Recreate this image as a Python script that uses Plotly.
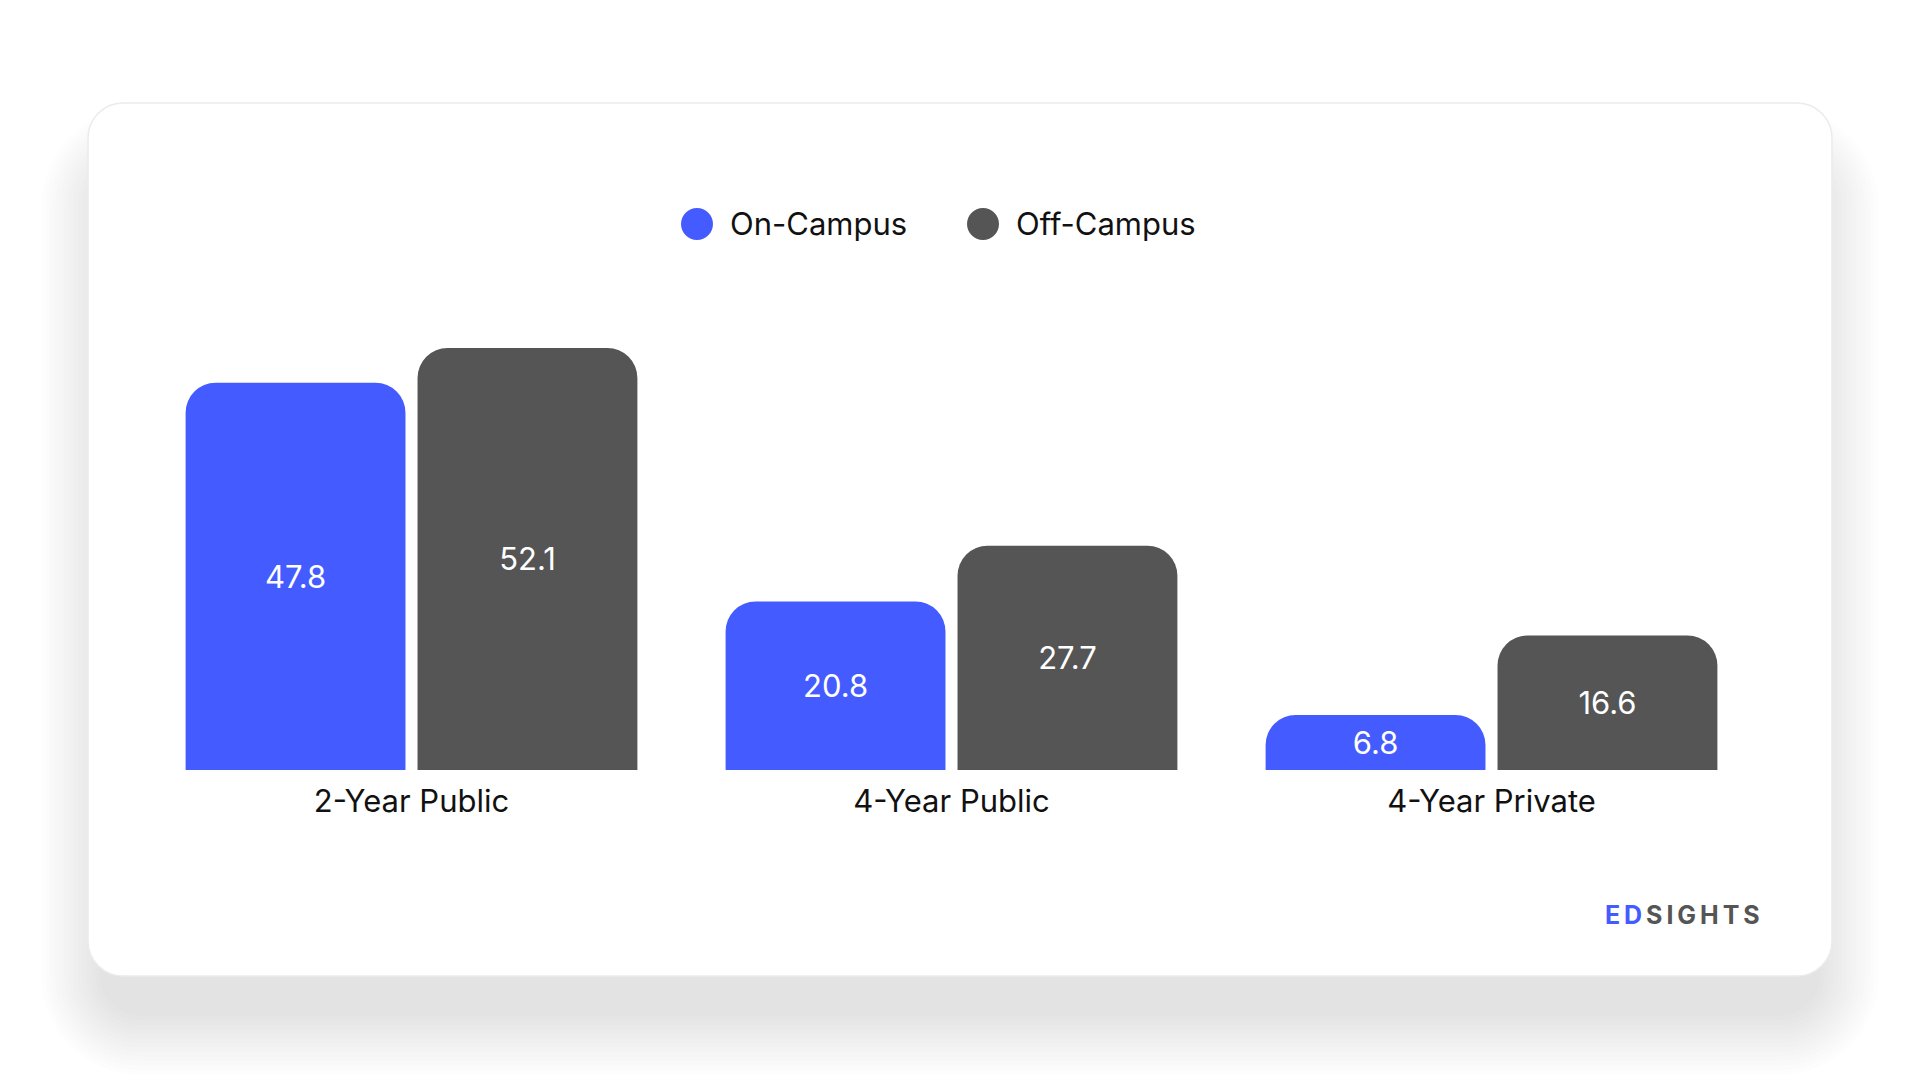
import plotly.graph_objects as go

categories = ["2-Year Public", "4-Year Public", "4-Year Private"]
on_campus = [47.8, 20.8, 6.8]
off_campus = [52.1, 27.7, 16.6]
series_names = ["On-Campus", "Off-Campus"]
series_colors = ["#445CFF", "#555555"]

W, H = 1920, 1080
FONT = "Inter"


def rrect(x0, y0, x1, y1, r):
    # rounded rectangle path in pixels from the top-left corner
    k = 0.5523 * r
    pts = [
        f"M{x0 + r},{-y0}",
        f"L{x1 - r},{-y0}",
        f"C{x1 - r + k},{-y0} {x1},{-(y0 + r - k)} {x1},{-(y0 + r)}",
        f"L{x1},{-(y1 - r)}",
        f"C{x1},{-(y1 - r + k)} {x1 - r + k},{-y1} {x1 - r},{-y1}",
        f"L{x0 + r},{-y1}",
        f"C{x0 + r - k},{-y1} {x0},{-(y1 - r + k)} {x0},{-(y1 - r)}",
        f"L{x0},{-(y0 + r)}",
        f"C{x0},{-(y0 + r - k)} {x0 + r - k},{-y0} {x0 + r},{-y0}",
        "Z",
    ]
    return " ".join(pts)


def pixel_shape(path, **kw):
    d = dict(type="path", path=path, xref="paper", yref="paper",
             xanchor=0, yanchor=1, xsizemode="pixel", ysizemode="pixel",
             layer="below")
    d.update(kw)
    return d


shapes = []
# soft drop shadow under the card
cx0, cy0, cx1, cy1, cr = 88, 103, 1832, 976, 35
spread, dy = 16, 52
for i in range(14):
    e = 4 + i * 4.5
    shapes.append(pixel_shape(
        rrect(cx0 + spread - e, cy0 + dy + spread - e,
              cx1 - spread + e, cy1 + dy - spread + e, cr + e),
        fillcolor="rgba(0,0,0,0.0085)", line=dict(width=0)))
# the card
shapes.append(pixel_shape(rrect(cx0, cy0, cx1, cy1, cr),
                          fillcolor="#ffffff",
                          line=dict(color="#ebebeb", width=1.5)))

fig = go.Figure()
for name, vals, col in zip(series_names, [on_campus, off_campus], series_colors):
    fig.add_trace(go.Bar(
        x=categories, y=vals, name=name,
        marker=dict(color=col, line=dict(width=0)),
        text=vals, texttemplate="%{y:.1f}",
        textposition="inside", insidetextanchor="middle",
        textangle=0,
        textfont=dict(family=FONT, size=31, color="#ffffff"),
        showlegend=False, hoverinfo="x+y+name",
    ))

# legend drawn as big circles with labels
annotations = []
legend_x = [697, 983]
legend_y = 224
for name, col, lx in zip(series_names, series_colors, legend_x):
    r = 16
    k = 0.5523 * r
    circ = (f"M{lx - r},{-legend_y} "
            f"C{lx - r},{-(legend_y - k)} {lx - k},{-(legend_y - r)} {lx},{-(legend_y - r)} "
            f"C{lx + k},{-(legend_y - r)} {lx + r},{-(legend_y - k)} {lx + r},{-legend_y} "
            f"C{lx + r},{-(legend_y + k)} {lx + k},{-(legend_y + r)} {lx},{-(legend_y + r)} "
            f"C{lx - k},{-(legend_y + r)} {lx - r},{-(legend_y + k)} {lx - r},{-legend_y} Z")
    shapes.append(pixel_shape(circ, fillcolor=col, line=dict(width=0), layer="above"))
    annotations.append(dict(
        text=name, x=(lx + 31) / W, y=1 - legend_y / H,
        xref="paper", yref="paper", xanchor="left", yanchor="middle",
        showarrow=False, font=dict(family=FONT, size=31, color="#111111")))

# brand mark
annotations.append(dict(
    text="<b><span style='color:#445CFF'>E\u2009D</span>\u2009"
         "<span style='color:#555555'>S\u2009I\u2009G\u2009H\u2009T\u2009S</span></b>",
    x=1762 / W, y=1 - 915 / H, xref="paper", yref="paper",
    xanchor="right", yanchor="middle", showarrow=False,
    font=dict(family=FONT, size=25)))

fig.update_layout(
    width=W, height=H,
    margin=dict(l=0, r=0, t=0, b=0),
    paper_bgcolor="#ffffff", plot_bgcolor="rgba(0,0,0,0)",
    barmode="group", bargap=0.141, bargroupgap=0.052,
    barcornerradius=30,
    shapes=shapes, annotations=annotations,
    font=dict(family=FONT, color="#111111"),
    xaxis=dict(domain=[141.5 / W, 1761.5 / W], showgrid=False, zeroline=False,
               showline=False, ticks="", ticklabelstandoff=10,
               tickfont=dict(family=FONT, size=31, color="#111111"),
               fixedrange=True),
    yaxis=dict(domain=[310 / H, 796 / H], range=[0, 60], visible=False,
               showgrid=False, fixedrange=True),
)

fig.write_html("out.html", config={"displayModeBar": False},
               post_script="document.body.style.margin='0';"
                           "document.body.style.overflow='hidden';")
